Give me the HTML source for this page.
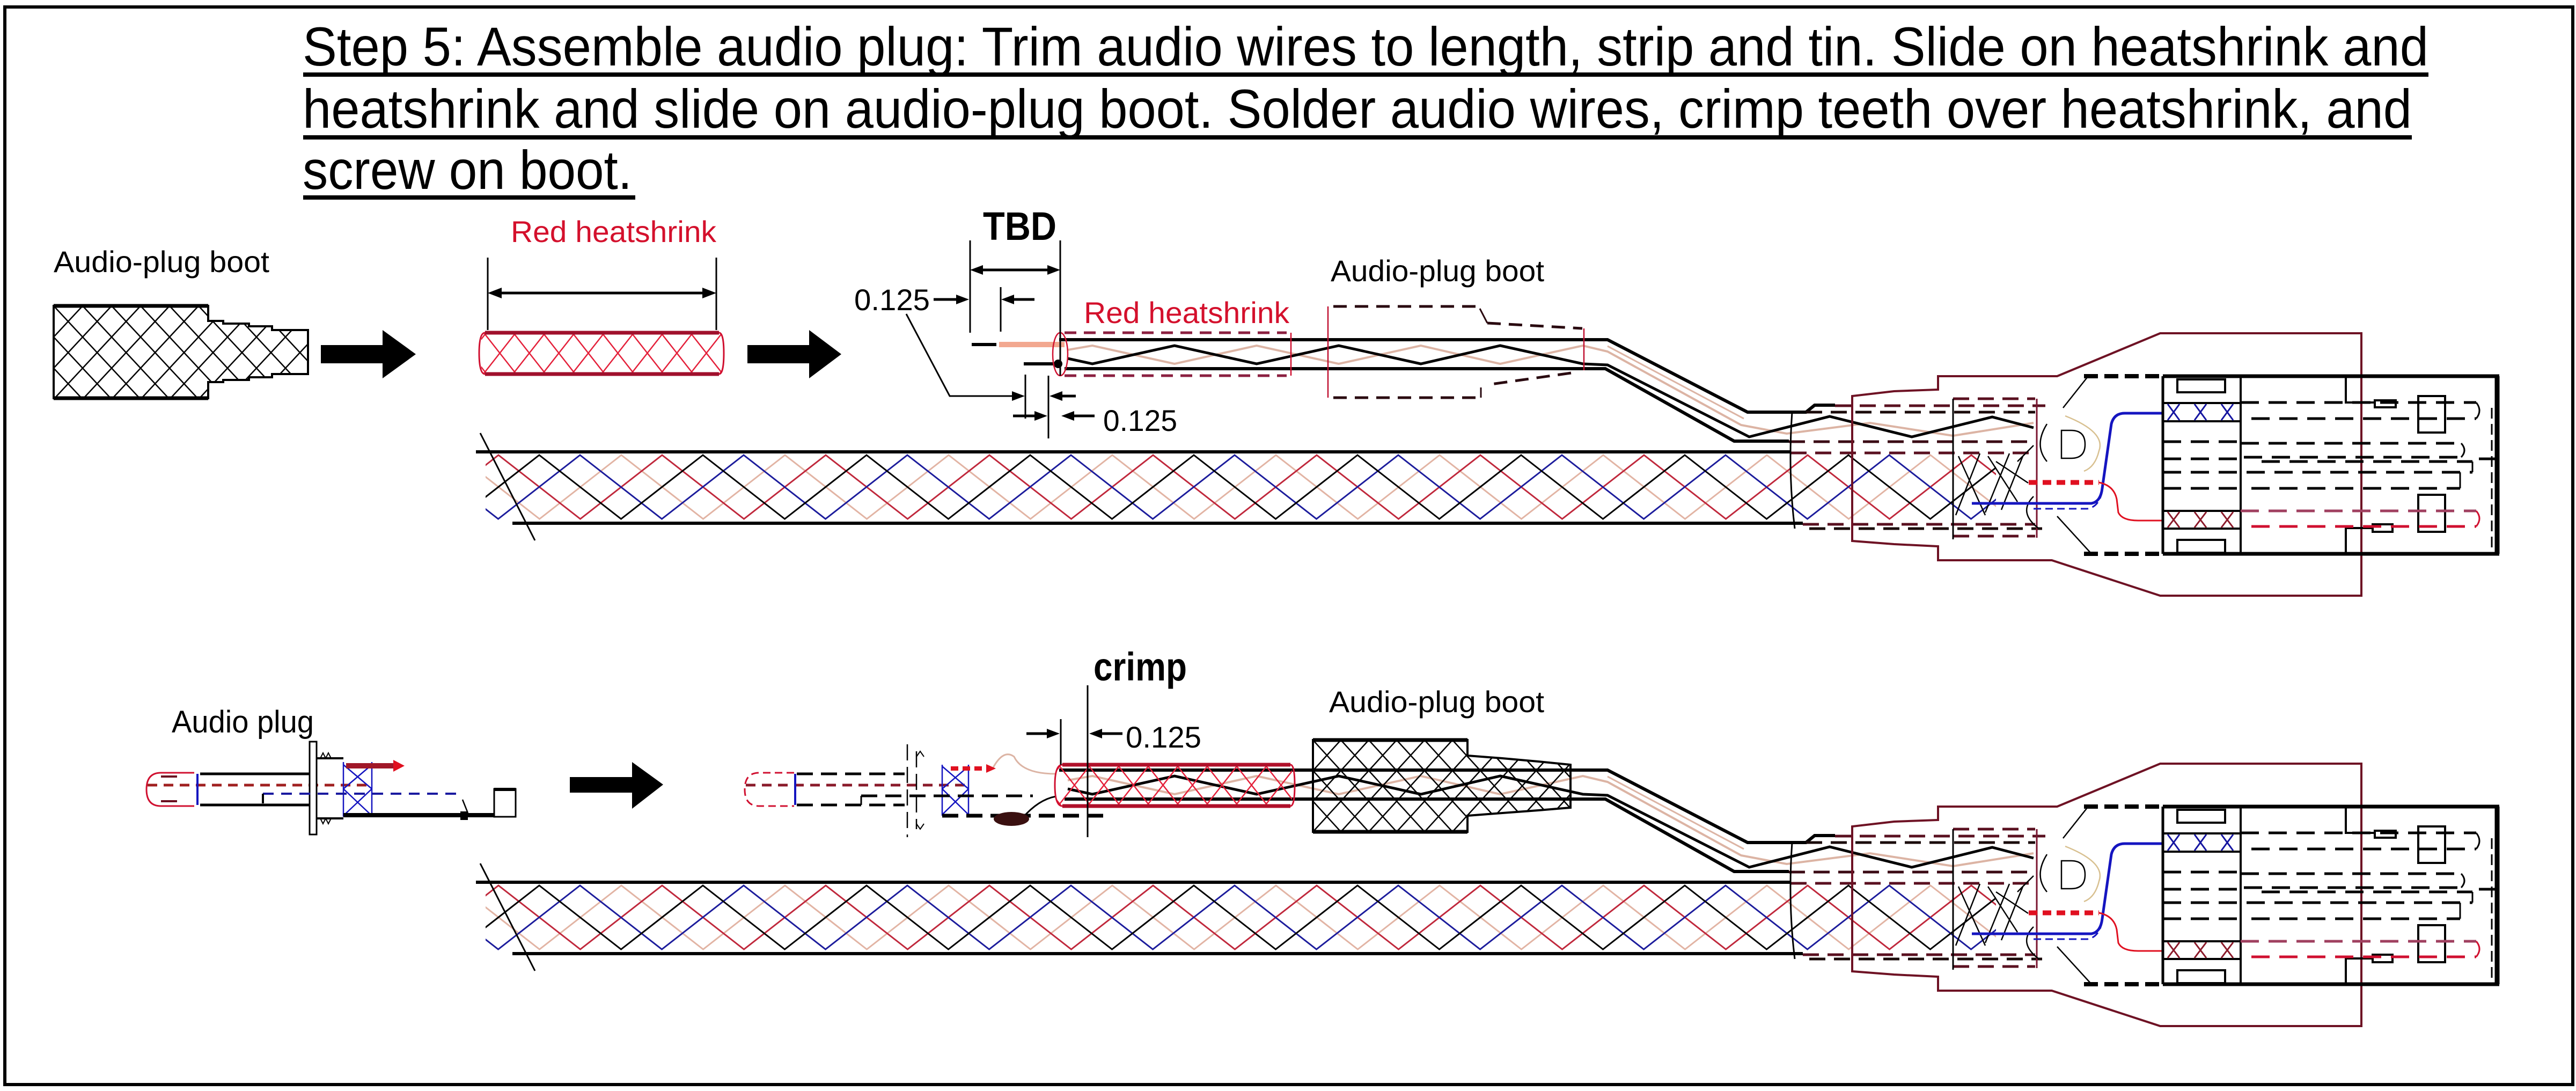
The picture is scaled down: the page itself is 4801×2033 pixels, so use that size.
<!DOCTYPE html>
<html><head><meta charset="utf-8"><style>
html,body{margin:0;padding:0;background:#fff;}
svg{display:block;}
text{font-family:"Liberation Sans",Arial,sans-serif;}
</style></head><body>
<svg xmlns="http://www.w3.org/2000/svg" width="4801" height="2033" viewBox="0 0 4801 2033">
<defs>
<pattern id="cab" patternUnits="userSpaceOnUse" x="929" y="842" width="305" height="140">
 <g fill="none" stroke-width="3">
  <path stroke="#e2b4a4" d="M-76,6 L76.5,125 L229,6 L381.5,125 L534,6"/>
  <path stroke="#c0283c" d="M-305,6 L-152.5,125 L0,6 L152.5,125 L305,6 L457.5,125"/>
  <path stroke="#1c1c9c" d="M-153,6 L-0.5,125 L152,6 L304.5,125 L457,6"/>
  <path stroke="#000" d="M-229,6 L-76.5,125 L76,6 L228.5,125 L381,6"/>
 </g>
</pattern>
<pattern id="hs" patternUnits="userSpaceOnUse" x="904" y="623" width="55" height="70">
 <path d="M0,0 L55,70 M55,0 L0,70" stroke="#e4203a" stroke-width="2.5" fill="none"/>
</pattern>
<pattern id="hs2" patternUnits="userSpaceOnUse" x="1975" y="1428" width="55" height="70">
 <path d="M0,0 L55,70 M55,0 L0,70" stroke="#e4203a" stroke-width="2.5" fill="none"/>
</pattern>
<pattern id="bt" patternUnits="userSpaceOnUse" x="100" y="570" width="54" height="58">
 <path d="M0,0 L54,58 M54,0 L0,58" stroke="#000" stroke-width="2.5" fill="none"/>
</pattern>
<pattern id="bt2" patternUnits="userSpaceOnUse" x="2447" y="1379" width="52" height="57">
 <path d="M0,0 L52,57 M52,0 L0,57" stroke="#000" stroke-width="2.5" fill="none"/>
</pattern>

<g id="asm">
 <!-- cable -->
 <rect x="905" y="846" width="2815" height="126" fill="url(#cab)"/>
 <path d="M887,842 H3337" stroke="#000" stroke-width="6"/>
 <path d="M955,975 H3360" stroke="#000" stroke-width="6"/>
 <path d="M895,807 L997,1007" stroke="#000" stroke-width="3"/>
 <!-- wires -->
 <path d="M1990,652 L2036,644 L2189,678 L2342,644 L2495,678 L2648,644 L2796,678 L2950,644 L2996,655 L3245,792 L3330,808 L3485,788 L3640,812 L3790,788" fill="none" stroke="#dcb4a4" stroke-width="4"/>
 <path d="M1990,668 L2036,678 L2189,644 L2342,678 L2495,644 L2648,678 L2796,644 L2950,678 L2996,680 L3260,814 L3410,776 L3563,814 L3713,777 L3790,797" fill="none" stroke="#000" stroke-width="5"/>
 <path d="M1974,633 L2996,633 L3257,768 L3366,768 L3382,755 L3420,755" fill="none" stroke="#000" stroke-width="6"/>
 <path d="M1984,687 L2992,687 L3232,822 L3334,822" fill="none" stroke="#000" stroke-width="6"/>
 <path d="M2996,645 L3250,780" fill="none" stroke="#dcb4a4" stroke-width="3"/>
 <g fill="none" stroke-width="5" stroke-dasharray="30,16">
  <path stroke="#5a1020" d="M3420,756 H3812"/>
  <path stroke="#1a0a0a" d="M3366,768 H3793"/>
  <path stroke="#3a0a14" d="M3334,823 H3793"/>
  <path stroke="#5a1020" d="M3337,844 H3793"/>
  <path stroke="#5a1020" d="M3360,977 H3793"/>
  <path stroke="#1a0a0a" d="M3372,985 H3806"/>
  <path stroke="#5a1020" d="M3640,743 H3793"/>
  <path stroke="#5a1020" d="M3640,999 H3793"/>
 </g>
 <path d="M3340,768 Q3332,880 3345,985" fill="none" stroke="#000" stroke-width="3"/>
 <path d="M3640,743 V1005" stroke="#000" stroke-width="3"/>
 <path d="M3796,743 V1002" stroke="#7a1530" stroke-width="3"/>
 <!-- braid fan -->
 <g stroke="#000" stroke-width="2.5" fill="none">
  <path d="M3650,850 L3700,960 M3690,845 L3645,960 M3705,850 L3760,935 M3745,845 L3700,955 M3770,850 L3730,950 M3720,860 L3780,900 M3760,860 L3790,830"/>
  <path d="M3842,802 L3860,802 Q3886,802 3886,828 Q3886,854 3860,854 L3842,854 Z"/>
  <path d="M3815,790 Q3790,830 3815,860"/>
  <path d="M3790,925 Q3760,955 3800,985"/>
  <path d="M3891,702 L3845,760"/>
  <path d="M3834,962 L3898,1032"/>
 </g>
 <path d="M3849,775 Q3925,805 3912,840 Q3905,870 3884,878" fill="none" stroke="#d8c090" stroke-width="2.5"/>
 <!-- blue and red wires -->
 <path d="M3675,938 H3898 Q3915,935 3918,910 L3935,790 Q3940,770 3960,770 L4031,770" fill="none" stroke="#1515c0" stroke-width="5"/>
 <path d="M3790,948 H3890 Q3912,945 3918,915" fill="none" stroke="#1515c0" stroke-width="3" stroke-dasharray="14,8"/>
 <path d="M3781,899 H3912" stroke="#e01020" stroke-width="9" stroke-dasharray="16,10"/>
 <path d="M3912,899 Q3940,905 3945,930 L3948,955 Q3955,970 3985,970 L4031,970" fill="none" stroke="#e01020" stroke-width="3"/>
 <!-- outer boot -->
 <path d="M3452,1008 L3452,738 L3530,729 L3612,726 L3612,701 L3834,701 L4026,621 L4401,621 L4401,1110 L4026,1110 L3824,1044 L3612,1044 L3612,1018 L3530,1014 Z" fill="none" stroke="#6e1224" stroke-width="4"/>
 <!-- inner connector -->
 <g fill="none" stroke="#000">
  <path d="M3884,701 H4031 M3884,1032 H4031" stroke-width="8" stroke-dasharray="26,12"/>
  <path d="M4031,701 H4658 M4031,1032 H4658" stroke-width="7"/>
  <path d="M4654,701 V1032" stroke-width="9"/>
  <path d="M4644,760 V1020" stroke-width="3" stroke-dasharray="20,10"/>
  <path d="M4031,701 V1032" stroke-width="5"/>
  <path d="M4176,701 V1032" stroke-width="4"/>
  <rect x="4058" y="707" width="89" height="24" stroke-width="4"/>
  <rect x="4058" y="1006" width="89" height="24" stroke-width="4"/>
  <rect x="4507" y="738" width="50" height="68" stroke-width="4"/>
  <rect x="4507" y="922" width="50" height="69" stroke-width="4"/>
  <rect x="4426" y="746" width="39" height="13" stroke-width="4"/>
  <rect x="4422" y="977" width="37" height="14" stroke-width="4"/>
  <path d="M4372,701 V750 H4426 M4372,1032 V984 H4422" stroke-width="4"/>
  <path d="M4031,751 H4176 M4031,785 H4176 M4031,952 H4176 M4031,985 H4176" stroke-width="4"/>
  <g stroke-width="5" stroke-dasharray="34,18">
   <path d="M4176,750 H4615"/>
   <path d="M4196,780 H4615"/>
   <path d="M4031,823 H4176"/>
   <path d="M4176,826 H4587"/>
   <path d="M4182,852 H4587"/>
   <path d="M4620,855 H4654"/>
   <path d="M4031,855 H4176"/>
   <path d="M4215,860 H4608"/>
   <path d="M4031,880 H4608"/>
   <path d="M4031,910 H4176"/>
   <path d="M4196,910 H4585"/>
   <path d="M4176,952 H4615" stroke="#a04060"/>
   <path d="M4196,981 H4615" stroke="#d01030"/>
  </g>
  <path d="M4615,750 Q4627,765 4615,780 M4587,826 Q4599,839 4587,852 M4608,860 V880 M4585,880 V910" stroke-width="3"/>
  <path d="M4615,952 Q4627,966 4615,981" stroke="#d01030" stroke-width="3"/>
 </g>
 <path d="M4040,753 L4062,783 M4062,753 L4040,783 M4090,753 L4112,783 M4112,753 L4090,783 M4140,753 L4162,783 M4162,753 L4140,783" stroke="#1515a0" stroke-width="3"/>
 <path d="M4040,954 L4062,983 M4062,954 L4040,983 M4090,954 L4112,983 M4112,954 L4090,983 M4140,954 L4162,983 M4162,954 L4140,983" stroke="#8b1a2a" stroke-width="3"/>
</g>
</defs>

<rect x="0" y="0" width="4801" height="2033" fill="#fff"/>
<!-- border -->
<rect x="9" y="13" width="4786" height="2008" fill="none" stroke="#000" stroke-width="6"/>

<!-- title -->
<g fill="#000" font-size="102">
 <text x="564" y="122" textLength="3962" lengthAdjust="spacingAndGlyphs">Step 5: Assemble audio plug: Trim audio wires to length, strip and tin. Slide on heatshrink and</text>
 <text x="564" y="238" textLength="3931" lengthAdjust="spacingAndGlyphs">heatshrink and slide on audio-plug boot. Solder audio wires, crimp teeth over heatshrink, and</text>
 <text x="564" y="352" textLength="614" lengthAdjust="spacingAndGlyphs">screw on boot.</text>
</g>
<rect x="565" y="135" width="3961" height="8" fill="#000"/>
<rect x="565" y="252" width="3930" height="8" fill="#000"/>
<rect x="565" y="364" width="619" height="8" fill="#000"/>

<!-- labels -->
<g font-size="56" fill="#000">
 <text x="100" y="507" textLength="402" lengthAdjust="spacingAndGlyphs">Audio-plug boot</text>
 <text x="952" y="451" textLength="383" lengthAdjust="spacingAndGlyphs" fill="#d4102c">Red heatshrink</text>
 <text x="1592" y="578" textLength="141" lengthAdjust="spacingAndGlyphs">0.125</text>
 <text x="2020" y="602" textLength="383" lengthAdjust="spacingAndGlyphs" fill="#d4102c">Red heatshrink</text>
 <text x="2480" y="524" textLength="398" lengthAdjust="spacingAndGlyphs">Audio-plug boot</text>
 <text x="2056" y="803" textLength="138" lengthAdjust="spacingAndGlyphs">0.125</text>
 <text x="320" y="1365" textLength="265" lengthAdjust="spacingAndGlyphs" font-size="58">Audio plug</text>
 <text x="2098" y="1393" textLength="141" lengthAdjust="spacingAndGlyphs">0.125</text>
 <text x="2477" y="1327" textLength="401" lengthAdjust="spacingAndGlyphs">Audio-plug boot</text>
</g>
<g font-size="74" font-weight="bold" fill="#000">
 <text x="1832" y="447" textLength="137" lengthAdjust="spacingAndGlyphs">TBD</text>
 <text x="2038" y="1268" textLength="174" lengthAdjust="spacingAndGlyphs">crimp</text>
</g>

<!-- top-left boot -->
<path d="M100,570 L388,570 L388,598 L416,598 L416,603 L464,603 L464,608 L507,608 L507,615 L574,615 L574,697 L507,697 L507,703 L464,703 L464,708 L416,708 L416,712 L388,712 L388,742 L100,742 Z" fill="url(#bt)" stroke="#000" stroke-width="4"/>
<path d="M100,570 H388 M100,742 H388" stroke="#000" stroke-width="7"/>

<!-- arrows -->
<g fill="#000">
 <polygon points="598,643 713,643 713,615 775,660 713,705 713,677 598,677"/>
 <polygon points="1393,643 1508,643 1508,615 1568,660 1508,705 1508,677 1393,677"/>
 <polygon points="1062,1448 1178,1448 1178,1420 1236,1462 1178,1507 1178,1477 1062,1477"/>
</g>

<!-- top-left red heatshrink -->
<rect x="897" y="621" width="448" height="75" fill="url(#hs)"/>
<path d="M904,620 H1340 M904,697 H1340" stroke="#a0102c" stroke-width="7"/>
<path d="M904,620 Q893,620 893,658 Q893,697 904,697 M1340,620 Q1349,620 1349,658 Q1349,697 1340,697" fill="none" stroke="#d01030" stroke-width="3"/>
<g stroke="#000" stroke-width="3">
 <path d="M909,480 V615 M1335,480 V615"/>
 <path d="M930,546 H1314" stroke-width="5"/>
</g>
<polygon points="909,546 935,536 935,556" fill="#000"/>
<polygon points="1335,546 1309,536 1309,556" fill="#000"/>

<!-- shared assemblies -->
<use href="#asm"/>
<use href="#asm" transform="translate(0,802)"/>

<!-- top section specifics -->
<path d="M1811,642 H1857" stroke="#000" stroke-width="6"/>
<rect x="1862" y="637" width="122" height="10" fill="#f2a890"/>
<path d="M1908,678 H1970" stroke="#000" stroke-width="6"/>
<circle cx="1972" cy="678" r="8" fill="#000"/>
<g fill="none" stroke="#8b2040" stroke-width="5" stroke-dasharray="22,14">
 <path d="M1984,620 H2398 M1984,700 H2398"/>
</g>
<ellipse cx="1976" cy="660" rx="14" ry="40" fill="none" stroke="#d01030" stroke-width="2.5"/>
<path d="M2406,620 V700" stroke="#d01030" stroke-width="2.5"/>
<g fill="none" stroke="#2a0a10" stroke-width="5" stroke-dasharray="25,15">
 <path d="M2485,571 H2750"/>
 <path d="M2772,602 L2949,612"/>
 <path d="M2928,695 L2772,717"/>
 <path d="M2485,741 H2760"/>
</g>
<path d="M2758,575 L2772,602 M2760,722 V741" stroke="#2a0a10" stroke-width="3"/>
<path d="M2475,571 V741 M2952,612 V690" stroke="#c01030" stroke-width="2.5"/>
<g stroke="#000" stroke-width="3" fill="none">
 <path d="M1808,448 V620 M1976,448 V700 M1865,535 V618 M1911,698 V780 M1954,700 V817"/>
 <path d="M1830,503 H1954" stroke-width="5"/>
 <path d="M1740,558 H1784" stroke-width="5"/>
 <path d="M1928,558 H1888" stroke-width="5"/>
 <path d="M1689,585 L1770,738 H1888"/>
 <path d="M2005,738 H1978" stroke-width="5"/>
 <path d="M1888,775 H1930" stroke-width="5"/>
 <path d="M2040,775 H2000" stroke-width="5"/>
</g>
<g fill="#000">
 <polygon points="1808,503 1832,494 1832,512"/>
 <polygon points="1976,503 1952,494 1952,512"/>
 <polygon points="1806,558 1782,549 1782,567"/>
 <polygon points="1866,558 1890,549 1890,567"/>
 <polygon points="1910,738 1886,729 1886,747"/>
 <polygon points="1956,738 1980,729 1980,747"/>
 <polygon points="1952,775 1928,766 1928,784"/>
 <polygon points="1978,775 2002,766 2002,784"/>
</g>

<!-- bottom: plug 1 -->
<g fill="none">
 <path d="M362,1440 L300,1440 Q273,1440 273,1471 Q273,1502 300,1502 L362,1502" stroke="#d01030" stroke-width="3"/>
 <path d="M300,1447 H330 M300,1493 H330" stroke="#6a1020" stroke-width="4"/>
 <path d="M275,1463 H690" stroke="#a02020" stroke-width="5" stroke-dasharray="18,12"/>
 <path d="M368,1442 V1500" stroke="#1515c0" stroke-width="4"/>
 <path d="M373,1442 H577 M373,1500 H577" stroke="#000" stroke-width="5"/>
 <rect x="577" y="1382" width="13" height="173" stroke="#000" stroke-width="3" fill="#fff"/>
 <path d="M590,1413 H640 M590,1525 H640" stroke="#000" stroke-width="4"/>
 <path d="M597,1413 L602,1403 L607,1413 L612,1403 L617,1413 M597,1525 L602,1535 L607,1525 L612,1535 L617,1525" stroke="#000" stroke-width="2"/>
 <path d="M640,1420 V1522 M693,1420 V1522 M640,1425 L693,1470 M693,1425 L640,1470 M640,1470 L693,1520 M693,1470 L640,1520" stroke="#1515c0" stroke-width="2.5"/>
 <path d="M490,1479 H855" stroke="#1a1aa0" stroke-width="4" stroke-dasharray="20,14"/>
 <path d="M490,1479 V1497" stroke="#000" stroke-width="4"/>
 <path d="M640,1519 H921" stroke="#000" stroke-width="8"/>
 <rect x="921" y="1470" width="40" height="52" stroke="#000" stroke-width="3"/>
 <path d="M921,1471 H961" stroke="#000" stroke-width="6"/>
 <path d="M862,1490 L872,1515" stroke="#000" stroke-width="2.5"/>
</g>
<rect x="645" y="1422" width="90" height="10" fill="#a01828"/>
<polygon points="733,1416 754,1427 733,1438" fill="#e01020"/>
<rect x="858" y="1512" width="14" height="16" fill="#000"/>

<!-- bottom: plug 2 (dashed) -->
<g fill="none">
 <path d="M1480,1440 L1415,1440 Q1388,1440 1388,1471 Q1388,1502 1415,1502 L1480,1502" stroke="#d01030" stroke-width="3" stroke-dasharray="14,8"/>
 <path d="M1390,1463 H1805" stroke="#8a1a2a" stroke-width="5" stroke-dasharray="18,12"/>
 <path d="M1482,1442 V1500" stroke="#1515c0" stroke-width="4"/>
 <path d="M1485,1442 H1686 M1485,1500 H1686" stroke="#000" stroke-width="5" stroke-dasharray="30,15"/>
 <path d="M1691,1387 V1560 M1708,1400 V1545" stroke="#000" stroke-width="2.5" stroke-dasharray="30,12"/>
 <path d="M1708,1410 L1715,1400 L1722,1410 M1708,1535 L1715,1545 L1722,1535" stroke="#000" stroke-width="2"/>
 <path d="M1756,1425 V1520 M1805,1425 V1520 M1756,1428 L1805,1470 M1805,1428 L1756,1470 M1756,1470 L1805,1518 M1805,1470 L1756,1518" stroke="#1515c0" stroke-width="2.5"/>
 <path d="M1605,1483 H1925" stroke="#000" stroke-width="5" stroke-dasharray="30,15"/>
 <path d="M1605,1483 V1500" stroke="#000" stroke-width="3"/>
 <path d="M1756,1520 H2071" stroke="#000" stroke-width="7" stroke-dasharray="30,15"/>
 <path d="M1850,1432 Q1870,1395 1890,1410 Q1905,1442 1968,1442" stroke="#dcb4a4" stroke-width="3"/>
 <path d="M1905,1525 Q1935,1490 1968,1484" stroke="#000" stroke-width="3"/>
</g>
<path d="M1772,1432 H1840" stroke="#e01020" stroke-width="8" stroke-dasharray="14,8"/>
<polygon points="1838,1424 1856,1432 1838,1440" fill="#e01020"/>
<ellipse cx="1885" cy="1526" rx="33" ry="13" fill="#3a1010"/>

<!-- bottom heatshrink (solid) -->
<rect x="1968" y="1427" width="440" height="73" fill="url(#hs2)"/>
<path d="M1980,1425 H2405 M1980,1502 H2405" stroke="#b0102a" stroke-width="7"/>
<path d="M1980,1425 Q1966,1425 1966,1463 Q1966,1502 1980,1502 M2405,1425 Q2413,1425 2413,1463 Q2413,1502 2405,1502" fill="none" stroke="#d01030" stroke-width="3"/>

<!-- bottom boot (solid crosshatch) -->
<path d="M2447,1379 L2735,1379 L2735,1408 L2800,1413 L2867,1419 L2927,1425 L2927,1505 L2867,1510 L2800,1515 L2735,1520 L2735,1550 L2447,1550 Z" fill="url(#bt2)" stroke="#000" stroke-width="4"/>
<path d="M2447,1379 H2735 M2447,1550 H2735" stroke="#000" stroke-width="7"/>

<!-- crimp dims -->
<g stroke="#000" stroke-width="3" fill="none">
 <path d="M2027,1277 V1560 M1977,1340 V1425"/>
 <path d="M1913,1367 H1955 M2092,1367 H2050" stroke-width="5"/>
</g>
<polygon points="1975,1367 1951,1358 1951,1376" fill="#000"/>
<polygon points="2030,1367 2054,1358 2054,1376" fill="#000"/>
</svg>
</body></html>
